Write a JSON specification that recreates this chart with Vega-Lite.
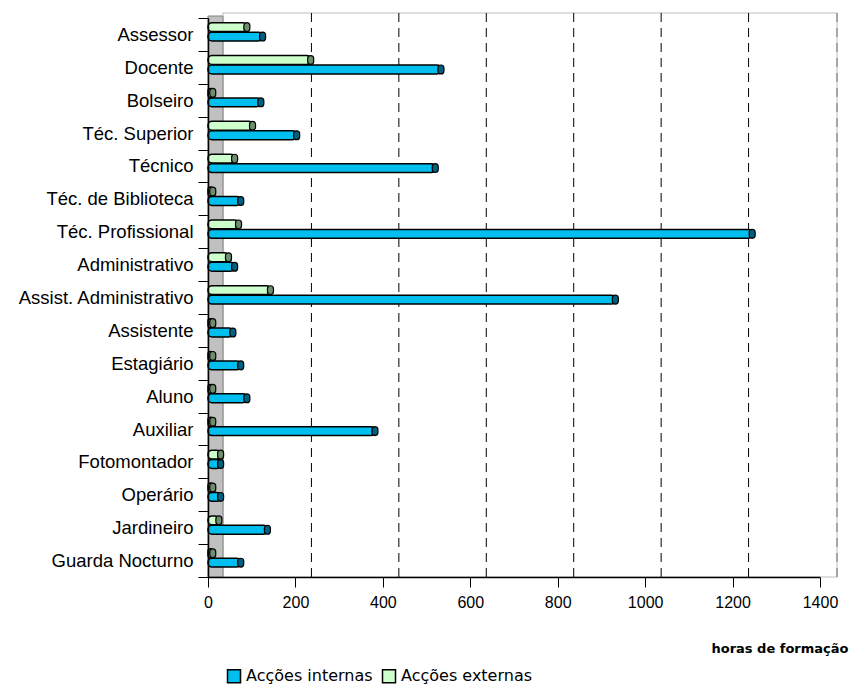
{
  "$schema": "https://vega.github.io/schema/vega-lite/v6.json",
  "width": 612,
  "height": 559,
  "autosize": {"type": "none"},
  "padding": {"left": 208, "top": 18, "right": 32, "bottom": 110},
  "background": "white",
  "config": {
    "view": {"stroke": null},
    "axis": {"labelColor": "black", "tickColor": "black", "domainColor": "black"}
  },
  "datasets": {
    "horas": [
      {"cargo": "Assessor", "serie": "Acções internas", "horas": 118},
      {"cargo": "Assessor", "serie": "Acções externas", "horas": 82},
      {"cargo": "Docente", "serie": "Acções internas", "horas": 526},
      {"cargo": "Docente", "serie": "Acções externas", "horas": 228},
      {"cargo": "Bolseiro", "serie": "Acções internas", "horas": 114},
      {"cargo": "Bolseiro", "serie": "Acções externas", "horas": 4},
      {"cargo": "Téc. Superior", "serie": "Acções internas", "horas": 196},
      {"cargo": "Téc. Superior", "serie": "Acções externas", "horas": 95},
      {"cargo": "Técnico", "serie": "Acções internas", "horas": 513},
      {"cargo": "Técnico", "serie": "Acções externas", "horas": 54},
      {"cargo": "Téc. de Biblioteca", "serie": "Acções internas", "horas": 68},
      {"cargo": "Téc. de Biblioteca", "serie": "Acções externas", "horas": 4},
      {"cargo": "Téc. Profissional", "serie": "Acções internas", "horas": 1238},
      {"cargo": "Téc. Profissional", "serie": "Acções externas", "horas": 63},
      {"cargo": "Administrativo", "serie": "Acções internas", "horas": 54},
      {"cargo": "Administrativo", "serie": "Acções externas", "horas": 40},
      {"cargo": "Assist. Administrativo", "serie": "Acções internas", "horas": 925},
      {"cargo": "Assist. Administrativo", "serie": "Acções externas", "horas": 136},
      {"cargo": "Assistente", "serie": "Acções internas", "horas": 50},
      {"cargo": "Assistente", "serie": "Acções externas", "horas": 4},
      {"cargo": "Estagiário", "serie": "Acções internas", "horas": 68},
      {"cargo": "Estagiário", "serie": "Acções externas", "horas": 4},
      {"cargo": "Aluno", "serie": "Acções internas", "horas": 82},
      {"cargo": "Aluno", "serie": "Acções externas", "horas": 4},
      {"cargo": "Auxiliar", "serie": "Acções internas", "horas": 375},
      {"cargo": "Auxiliar", "serie": "Acções externas", "horas": 4},
      {"cargo": "Fotomontador", "serie": "Acções internas", "horas": 22},
      {"cargo": "Fotomontador", "serie": "Acções externas", "horas": 22},
      {"cargo": "Operário", "serie": "Acções internas", "horas": 22},
      {"cargo": "Operário", "serie": "Acções externas", "horas": 4},
      {"cargo": "Jardineiro", "serie": "Acções internas", "horas": 129},
      {"cargo": "Jardineiro", "serie": "Acções externas", "horas": 18},
      {"cargo": "Guarda Nocturno", "serie": "Acções internas", "horas": 68},
      {"cargo": "Guarda Nocturno", "serie": "Acções externas", "horas": 4}
    ],
    "grelha": [
      {"horas": 200}, {"horas": 400}, {"horas": 600},
      {"horas": 800}, {"horas": 1000}, {"horas": 1200}
    ]
  },
  "layer": [
    {
      "description": "back wall outline of the 3D box",
      "data": {"values": [{}]},
      "mark": {"type": "rect", "fill": null, "stroke": "#D4D4D4", "strokeWidth": 1.5,
               "xOffset": 15, "x2Offset": 17, "yOffset": -5, "y2Offset": -6},
      "encoding": {"x": {"datum": 0}, "x2": {"datum": 1400}}
    },
    {
      "description": "dashed right edge of the back wall",
      "data": {"values": [{}]},
      "mark": {"type": "rule", "stroke": "#A6A6A6", "strokeWidth": 2, "strokeDash": [9, 6],
               "xOffset": 17, "yOffset": -5, "y2Offset": -6},
      "encoding": {"x": {"datum": 1400}}
    },
    {
      "description": "dashed gridlines on the back wall",
      "data": {"name": "grelha"},
      "mark": {"type": "rule", "stroke": "black", "strokeWidth": 1, "strokeDash": [9, 6],
               "xOffset": 16, "yOffset": -5, "y2Offset": -6},
      "encoding": {"x": {"field": "horas", "type": "quantitative"}}
    },
    {
      "description": "grey side wall",
      "data": {"values": [{}]},
      "mark": {"type": "rect", "fill": "#C0C0C0", "stroke": "#808080", "strokeWidth": 1,
               "x2Offset": 15, "yOffset": -2, "y2Offset": -3},
      "encoding": {"x": {"datum": 0}, "x2": {"datum": 0}}
    },
    {
      "description": "bar bodies",
      "data": {"name": "horas"},
      "mark": {"type": "bar", "stroke": "black", "strokeWidth": 1.5, "cornerRadius": 4,
               "xOffset": 3, "x2Offset": 3},
      "encoding": {
        "y": {
          "field": "cargo", "type": "nominal", "sort": null,
          "scale": {"paddingInner": 0, "paddingOuter": 0},
          "axis": {"title": null, "tickSize": 10, "tickBand": "extent", "domainWidth": 1.5,
                   "zindex": 2,
                   "labelFont": "Liberation Sans", "labelFontSize": 18.5, "labelPadding": 5}
        },
        "yOffset": {"field": "serie", "sort": ["Acções externas", "Acções internas"],
                    "scale": {"paddingInner": 0.06, "paddingOuter": 0.773, "align": 0.322}},
        "x": {
          "field": "horas", "type": "quantitative", "stack": null,
          "scale": {"domain": [0, 1400], "nice": false},
          "axis": {
            "title": "horas de formação", "values": [0, 200, 400, 600, 800, 1000, 1200, 1400],
            "format": "d",
            "grid": false, "tickSize": 10, "labelPadding": 7, "labelFlush": false,
            "domainWidth": 1.5, "zindex": 2,
            "labelFont": "Liberation Sans", "labelFontSize": 16,
            "titleFont": "DejaVu Sans", "titleFontSize": 13, "titleFontWeight": "bold",
            "titleColor": "black", "titleAnchor": "end", "titleAlign": "right",
            "titleX": 640, "titleY": 75, "titleBaseline": "alphabetic"
          }
        },
        "color": {
          "field": "serie", "type": "nominal",
          "scale": {"domain": ["Acções internas", "Acções externas"], "range": ["#00BFEF", "#CCFFCC"]},
          "legend": {
            "title": null, "orient": "none", "legendX": 18, "legendY": 650,
            "direction": "horizontal", "symbolType": "square", "symbolSize": 169,
            "symbolStrokeColor": "black", "symbolStrokeWidth": 1.5,
            "labelFont": "DejaVu Sans", "labelFontSize": 16, "labelColor": "black",
            "labelOffset": 4, "columnPadding": 6
          }
        }
      }
    },
    {
      "description": "darker end caps of the cylinders",
      "data": {"name": "horas"},
      "mark": {"type": "bar", "stroke": "black", "strokeWidth": 1.2, "cornerRadius": 3,
               "xOffset": 0, "x2Offset": 6},
      "encoding": {
        "y": {"field": "cargo", "type": "nominal", "sort": null},
        "yOffset": {"field": "serie", "sort": ["Acções externas", "Acções internas"]},
        "x": {"field": "horas", "type": "quantitative", "stack": null},
        "x2": {"field": "horas"},
        "fill": {
          "condition": {"test": "datum.serie === 'Acções internas'", "value": "#00607F"},
          "value": "#6E8E6E"
        }
      }
    }
  ]
}
